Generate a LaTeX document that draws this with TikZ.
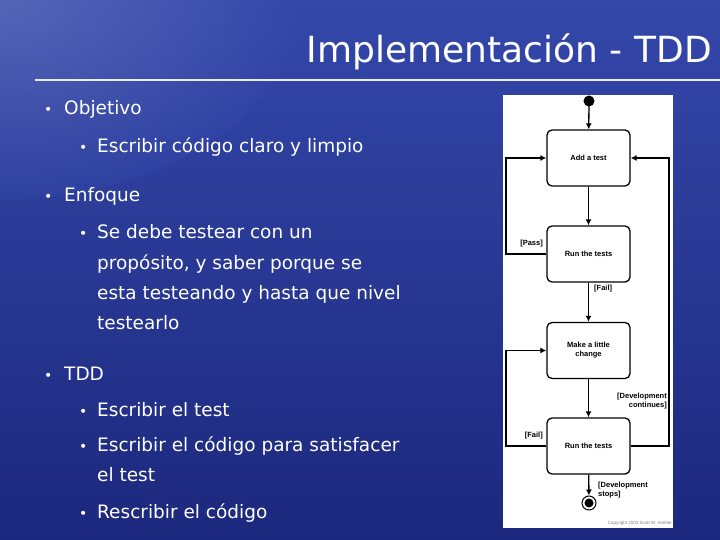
\documentclass[tikz,border=0pt]{standalone}
\usepackage{fontspec}
\setmainfont{DejaVu Sans}
\setsansfont{Liberation Sans}
\usetikzlibrary{arrows.meta}
\definecolor{bgA}{RGB}{52,72,170}
\definecolor{bgB}{RGB}{28,40,125}
\tikzset{
  box/.style={draw=black,line width=1.3pt,rounded corners=5pt,fill=white,minimum width=83pt,minimum height=56pt,align=center,font=\fontsize{7.5}{9}\selectfont\sffamily\bfseries,inner sep=1pt},
  flow/.style={line width=1.3pt,-{Latex[length=6pt,width=6pt]}},
  lbl/.style={font=\fontsize{7.5}{9}\selectfont\sffamily\bfseries,align=right,inner sep=0pt},
  t1/.style={anchor=base west,text=white,font=\fontsize{18.5}{22}\selectfont,inner sep=0pt},
  b1/.style={anchor=base west,text=white,font=\fontsize{14}{16}\selectfont,inner sep=0pt}
}
\begin{document}
\begin{tikzpicture}[x=1pt,y=-1pt]
\useasboundingbox (0,0) rectangle (720,540);
\shade[top color=bgA,bottom color=bgB] (0,0) rectangle (720,540);
\shade[inner color=bgA!60!white,outer color=bgA,opacity=0.4] (0,0) ellipse (300 and 200);
\node[anchor=base east,text=white,font=\fontsize{36}{40}\selectfont,inner sep=0pt] (title) at (712,63) {Implementación - TDD};
\draw[white!85!gray,line width=1.5pt] (35,80) -- (720,80);
% bullets
\foreach \y/\t in {115/Objetivo,202/Enfoque,380/TDD}{\node[b1] at (44,\y) {•}; \node[t1] at (64,\y) {\t};}
\foreach \y in {153,239,416,451,518}{\node[b1] at (79,\y) {•};}
\node[t1] at (97,153) {Escribir código claro y limpio};
\node[t1] at (97,239) {Se debe testear con un};
\node[t1] at (97,269) {propósito, y saber porque se};
\node[t1] at (97,299) {esta testeando y hasta que nivel};
\node[t1] at (97,329) {testearlo};
\node[t1] at (97,416) {Escribir el test};
\node[t1] at (97,451) {Escribir el código para satisfacer};
\node[t1] at (97,481) {el test};
\node[t1] at (97,518) {Rescribir el código};
% diagram
\fill[white] (503,95) rectangle (673,528);
\node[box] (b1) at (588.5,158) {Add a test};
\node[box] (b2) at (588.5,254) {Run the tests};
\node[box] (b3) at (588.5,350.5) {Make a little\\change};
\node[box] (b4) at (588.5,446) {Run the tests};
\fill[black] (589,101) circle (5.5) coordinate (start);
\node[circle,draw=black,line width=1pt,minimum size=14pt,inner sep=0pt] (end) at (589,503) {};
\fill[black] (end) circle (4.5);
\draw[flow] (start) -- (b1);
\draw[flow] (b1) -- (b2);
\draw[flow] (b2) -- (b3);
\draw[flow] (b3) -- (b4);
\draw[flow] (b4) -- (end);
\draw[flow] (b2.west) -- (506,254) -- (506,158) -- (b1.west);
\draw[flow] (b4.west) -- (506,446) -- (506,350.5) -- (b3.west);
\draw[flow] (b4.east) -- (669,446) -- (669,158) -- (b1.east);
\node[lbl,anchor=east] (l1) at (543,244) {[Pass]};
\node[lbl,anchor=west] (l2) at (594,289) {[Fail]};
\node[lbl,anchor=east] (l3) at (667,401) {[Development\\continues]};
\node[lbl,anchor=east] (l4) at (543,436) {[Fail]};
\node[lbl,anchor=west,align=left] (l5) at (598,490) {[Development\\stops]};
\node[anchor=east,font=\fontsize{4.5}{5}\selectfont\sffamily,inner sep=0pt,text=gray] (cp) at (672,523) {Copyright 2003 Scott W. Ambler};
\end{tikzpicture}
\end{document}
